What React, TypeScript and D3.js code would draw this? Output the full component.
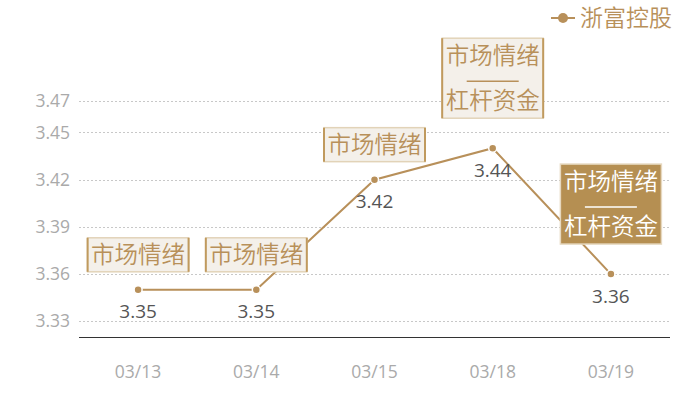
import React from "react";
import * as d3 from "d3";

const categories = ["03/13", "03/14", "03/15", "03/18", "03/19"];
const values = [3.35, 3.35, 3.42, 3.44, 3.36];
const yTicks = [3.33, 3.36, 3.39, 3.42, 3.45, 3.47];
const annotations = [
  { idx: 0, lines: ["市场情绪"], dark: false },
  { idx: 1, lines: ["市场情绪"], dark: false },
  { idx: 2, lines: ["市场情绪"], dark: false },
  { idx: 3, lines: ["市场情绪", "杠杆资金"], dark: false },
  { idx: 4, lines: ["市场情绪", "杠杆资金"], dark: true },
];
const seriesName = "浙富控股";

const W = 700;
const H = 400;
const gold = "#b8905a";
const cjk = "'Noto Sans CJK SC', sans-serif";
const num = "'Open Sans', 'Noto Sans', sans-serif";

export default function App() {
  const x = d3.scaleBand<string>().domain(categories).range([79, 670]);
  const y = d3.scaleLinear().domain([3.32, 3.47]).range([337, 101]);
  const cx = (i: number) => (x(categories[i]) as number) + x.bandwidth() / 2;
  const line = d3
    .line<number>()
    .x((_, i) => cx(i))
    .y((d) => y(d));

  return (
    <svg
      width={W}
      height={H}
      style={{ position: "absolute", left: 0, top: 0, fontFamily: num }}
    >
      <rect width={W} height={H} fill="#fff" />
      {yTicks.map((t) => (
        <g key={t}>
          <line
            x1={79}
            x2={670}
            y1={Math.round(y(t)) + 0.5}
            y2={Math.round(y(t)) + 0.5}
            stroke="#c8c8c8"
            strokeDasharray="2,2"
          />
          <text
            x={70}
            y={y(t)}
            dy="0.35em"
            textAnchor="end"
            fontSize={17.5}
            fill="#aaa"
          >
            {t.toFixed(2)}
          </text>
        </g>
      ))}
      <line x1={79} x2={670} y1={337.5} y2={337.5} stroke="#333" strokeWidth={1} />
      {categories.map((c, i) => (
        <text
          key={c}
          x={cx(i)}
          y={372}
          dy="0.35em"
          textAnchor="middle"
          fontSize={17.5}
          fill="#aaa"
        >
          {c}
        </text>
      ))}
      <path d={line(values) || ""} fill="none" stroke={gold} strokeWidth={2} />
      {values.map((v, i) => (
        <g key={i}>
          <circle cx={cx(i)} cy={y(v)} r={4} fill={gold} stroke="#fff" strokeWidth={1.5} />
          <text
            x={cx(i)}
            y={y(v) + 22}
            dy="0.35em"
            textAnchor="middle"
            fontSize={19}
            fill="#555"
          >
            {v.toFixed(2)}
          </text>
        </g>
      ))}
      {annotations.map((a) => {
        const v = values[a.idx];
        const two = a.lines.length > 1;
        const bh = two ? 80 : 34;
        const bw = 101;
        const gap = two ? 30 : 18;
        const bx = cx(a.idx) - bw / 2;
        const by = y(v) - gap - bh;
        const textColor = a.dark ? "#fff" : gold;
        return (
          <g key={a.idx} style={{ fontFamily: cjk }}>
            <rect
              x={bx}
              y={by}
              width={bw}
              height={bh}
              fill={a.dark ? "#b58f52" : "#f4f0ea"}
              stroke={a.dark ? "#e6d8bf" : "#e2d3b8"}
              strokeWidth={1.5}
            />
            {!a.dark && (
              <>
                <line x1={bx} x2={bx} y1={by} y2={by + bh} stroke="#c09a5e" strokeWidth={2} />
                <line x1={bx + bw} x2={bx + bw} y1={by} y2={by + bh} stroke="#c09a5e" strokeWidth={2} />
              </>
            )}
            <text
              x={cx(a.idx)}
              y={by + (two ? 18 : bh / 2)}
              dy="0.35em"
              textAnchor="middle"
              fontSize={23.5}
              fontWeight={350}
              fill={textColor}
            >
              {a.lines[0]}
            </text>
            {two && (
              <>
                <line
                  x1={cx(a.idx) - 26}
                  x2={cx(a.idx) + 26}
                  y1={by + 43}
                  y2={by + 43}
                  stroke={textColor}
                  strokeWidth={1.5}
                />
                <text
                  x={cx(a.idx)}
                  y={by + 63}
                  dy="0.35em"
                  textAnchor="middle"
                  fontSize={23.5}
                  fontWeight={350}
                  fill={textColor}
                >
                  {a.lines[1]}
                </text>
              </>
            )}
          </g>
        );
      })}
      <g style={{ fontFamily: cjk }}>
        <line x1={551} x2={575} y1={18} y2={18} stroke={gold} strokeWidth={2} />
        <circle cx={563} cy={18} r={5} fill={gold} />
        <text x={580} y={18} dy="0.35em" fontSize={23} fontWeight={350} fill={gold}>
          {seriesName}
        </text>
      </g>
    </svg>
  );
}
